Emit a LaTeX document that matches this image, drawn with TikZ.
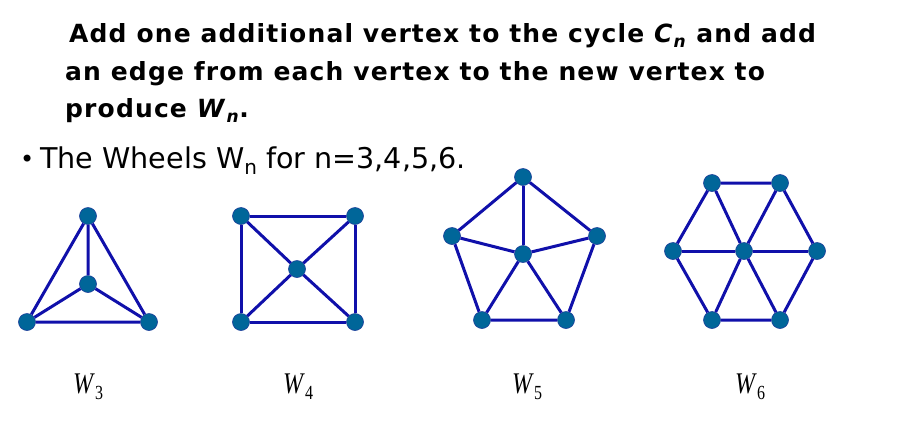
\documentclass[tikz,border=0pt]{standalone}
\usepackage{fontspec}
\usepackage{xcolor}
\setmainfont{DejaVu Sans}
\newfontfamily\headfont[LetterSpace=4.6]{DejaVu Sans}
\newfontfamily\labelfont{Liberation Serif}

\definecolor{vertexfill}{HTML}{006699}
\definecolor{vertexline}{HTML}{1A3C9A}
\definecolor{edgeblue}{HTML}{1010AA}

\newcommand{\wheellabel}[1]{\scalebox{0.8}[1]{\textit{W}\raisebox{-6pt}{\fontsize{20}{20}\selectfont #1}}}

\begin{document}
\begin{tikzpicture}[x=1pt, y=-1pt,
    vertex/.style={circle, fill=vertexfill, draw=vertexline, line width=0.6pt,
        minimum size=17pt, inner sep=0pt},
    edge/.style={draw=edgeblue, line width=3pt},
    heading/.style={anchor=base west, inner sep=0pt,
        font=\headfont\bfseries\fontsize{25}{28}\selectfont},
    wlabel/.style={anchor=base west, inner sep=0pt,
        font=\labelfont\fontsize{30}{30}\selectfont}]
\useasboundingbox (0,0) rectangle (919,432);

% Heading
\node[heading] (h1) at (69,42) {Add one additional vertex to the cycle \textit{C}\raisebox{-5pt}{\fontsize{17}{17}\selectfont\textit{n}} and add};
\node[heading] (h2) at (65,80) {an edge from each vertex to the new vertex to};
\node[heading] (h3) at (65,117) {produce \textit{W}\raisebox{-5pt}{\fontsize{17}{17}\selectfont\textit{n}}.};

% Bullet line
\node[anchor=base west, inner sep=0pt, font=\fontsize{24}{24}\selectfont] (bul) at (20,167) {\textbullet};
\node[anchor=base west, inner sep=0pt, font=\fontsize{28.6}{30}\selectfont] (wheels) at (40,168)
    {The Wheels W\raisebox{-6pt}{\fontsize{20}{20}\selectfont n} for n=3,4,5,6.};

% W3
\node[vertex] (t3) at (88,216) {};
\node[vertex] (c3) at (88,284) {};
\node[vertex] (l3) at (27,322) {};
\node[vertex] (r3) at (149,322) {};
\draw[edge] (t3) -- (l3) -- (r3) -- (t3);
\draw[edge] (c3) -- (t3) (c3) -- (l3) (c3) -- (r3);

% W4
\node[vertex] (tl4) at (241,216) {};
\node[vertex] (tr4) at (355,216) {};
\node[vertex] (c4) at (297,269) {};
\node[vertex] (bl4) at (241,322) {};
\node[vertex] (br4) at (355,322) {};
\draw[edge] (tl4) -- (tr4) -- (br4) -- (bl4) -- (tl4);
\foreach \v in {tl4,tr4,bl4,br4}
    \draw[edge] (c4) -- (\v);

% W5
\node[vertex] (t5) at (523,177) {};
\node[vertex] (l5) at (452,236) {};
\node[vertex] (r5) at (597,236) {};
\node[vertex] (c5) at (523,254) {};
\node[vertex] (bl5) at (482,320) {};
\node[vertex] (br5) at (566,320) {};
\draw[edge] (t5) -- (r5) -- (br5) -- (bl5) -- (l5) -- (t5);
\foreach \v in {t5,l5,r5,bl5,br5}
    \draw[edge] (c5) -- (\v);

% W6
\node[vertex] (tl6) at (712,183) {};
\node[vertex] (tr6) at (780,183) {};
\node[vertex] (l6) at (673,251) {};
\node[vertex] (c6) at (744,251) {};
\node[vertex] (r6) at (817,251) {};
\node[vertex] (bl6) at (712,320) {};
\node[vertex] (br6) at (780,320) {};
\draw[edge] (tl6) -- (tr6) -- (r6) -- (br6) -- (bl6) -- (l6) -- (tl6);
\foreach \v in {tl6,tr6,l6,r6,bl6,br6}
    \draw[edge] (c6) -- (\v);

% Labels
\node[wlabel] (w3) at (73,393) {\wheellabel{3}};
\node[wlabel] (w4) at (283,393) {\wheellabel{4}};
\node[wlabel] (w5) at (512,393) {\wheellabel{5}};
\node[wlabel] (w6) at (735,393) {\wheellabel{6}};

\end{tikzpicture}
\end{document}
